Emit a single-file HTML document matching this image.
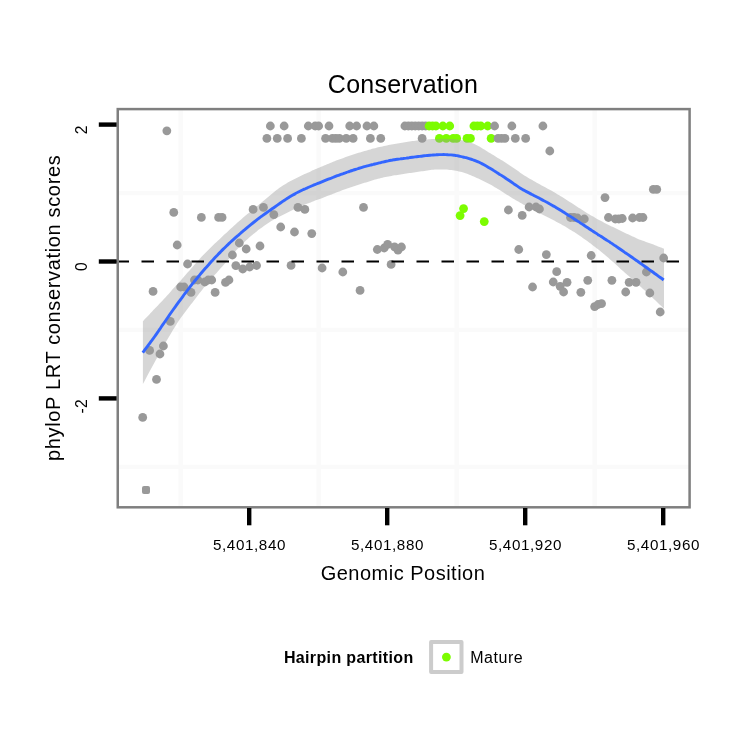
<!DOCTYPE html>
<html><head><meta charset="utf-8"><title>Conservation</title>
<style>
html,body{margin:0;padding:0;background:#fff;}
body{width:750px;height:750px;overflow:hidden;}
svg{display:block;}
text{font-family:"Liberation Sans",sans-serif;fill:#000;}
</style></head><body>
<svg width="750" height="750" viewBox="0 0 750 750">
<rect x="0" y="0" width="750" height="750" fill="#ffffff"/>
<!-- grid -->
<g stroke="#fafafa" stroke-width="4.4" fill="none">
<line x1="180.7" y1="109" x2="180.7" y2="507"/><line x1="318.7" y1="109" x2="318.7" y2="507"/>
<line x1="456.7" y1="109" x2="456.7" y2="507"/><line x1="594.7" y1="109" x2="594.7" y2="507"/>
<line x1="118" y1="193.1" x2="689.5" y2="193.1"/><line x1="118" y1="329.9" x2="689.5" y2="329.9"/>
<line x1="118" y1="466.9" x2="689.5" y2="466.9"/>
</g>
<!-- points -->
<g>
<circle cx="142.70" cy="417.4" r="4.40" fill="#999999"/>
<rect x="142" y="485.9" width="8" height="8" rx="2" ry="2" fill="#999999"/>
<circle cx="149.60" cy="350.4" r="4.40" fill="#999999"/>
<circle cx="153.05" cy="291.4" r="4.40" fill="#999999"/>
<circle cx="156.50" cy="379.4" r="4.40" fill="#999999"/>
<circle cx="159.95" cy="354.0" r="4.40" fill="#999999"/>
<circle cx="163.40" cy="346.0" r="4.40" fill="#999999"/>
<circle cx="166.85" cy="130.8" r="4.40" fill="#999999"/>
<circle cx="170.30" cy="321.4" r="4.40" fill="#999999"/>
<circle cx="173.75" cy="212.4" r="4.40" fill="#999999"/>
<circle cx="177.20" cy="245.0" r="4.40" fill="#999999"/>
<circle cx="180.65" cy="287.0" r="4.40" fill="#999999"/>
<circle cx="184.10" cy="287.0" r="4.40" fill="#999999"/>
<circle cx="187.55" cy="264.0" r="4.40" fill="#999999"/>
<circle cx="191.00" cy="292.4" r="4.40" fill="#999999"/>
<circle cx="194.45" cy="280.0" r="4.40" fill="#999999"/>
<circle cx="197.90" cy="280.0" r="4.40" fill="#999999"/>
<circle cx="201.35" cy="217.4" r="4.40" fill="#999999"/>
<circle cx="204.80" cy="282.0" r="4.40" fill="#999999"/>
<circle cx="208.25" cy="280.0" r="4.40" fill="#999999"/>
<circle cx="211.70" cy="280.0" r="4.40" fill="#999999"/>
<circle cx="215.15" cy="292.4" r="4.40" fill="#999999"/>
<circle cx="218.60" cy="217.4" r="4.40" fill="#999999"/>
<circle cx="222.05" cy="217.4" r="4.40" fill="#999999"/>
<circle cx="225.50" cy="282.4" r="4.40" fill="#999999"/>
<circle cx="228.95" cy="280.0" r="4.40" fill="#999999"/>
<circle cx="232.40" cy="255.0" r="4.40" fill="#999999"/>
<circle cx="235.85" cy="265.6" r="4.40" fill="#999999"/>
<circle cx="239.30" cy="243.0" r="4.40" fill="#999999"/>
<circle cx="242.75" cy="269.0" r="4.40" fill="#999999"/>
<circle cx="246.20" cy="249.0" r="4.40" fill="#999999"/>
<circle cx="249.65" cy="267.0" r="4.40" fill="#999999"/>
<circle cx="253.10" cy="209.4" r="4.40" fill="#999999"/>
<circle cx="256.55" cy="265.5" r="4.40" fill="#999999"/>
<circle cx="260.00" cy="246.0" r="4.40" fill="#999999"/>
<circle cx="263.45" cy="207.4" r="4.40" fill="#999999"/>
<circle cx="266.90" cy="138.4" r="4.40" fill="#999999"/>
<circle cx="270.35" cy="126.0" r="4.40" fill="#999999"/>
<circle cx="273.80" cy="214.6" r="4.40" fill="#999999"/>
<circle cx="277.25" cy="138.4" r="4.40" fill="#999999"/>
<circle cx="280.70" cy="227.0" r="4.40" fill="#999999"/>
<circle cx="284.15" cy="126.0" r="4.40" fill="#999999"/>
<circle cx="287.60" cy="138.4" r="4.40" fill="#999999"/>
<circle cx="291.05" cy="265.4" r="4.40" fill="#999999"/>
<circle cx="294.50" cy="232.0" r="4.40" fill="#999999"/>
<circle cx="297.95" cy="207.4" r="4.40" fill="#999999"/>
<circle cx="301.40" cy="138.4" r="4.40" fill="#999999"/>
<circle cx="304.85" cy="209.4" r="4.40" fill="#999999"/>
<circle cx="308.30" cy="126.0" r="4.40" fill="#999999"/>
<circle cx="311.75" cy="233.6" r="4.40" fill="#999999"/>
<circle cx="315.20" cy="126.0" r="4.40" fill="#999999"/>
<circle cx="318.65" cy="126.0" r="4.40" fill="#999999"/>
<circle cx="322.10" cy="268.0" r="4.40" fill="#999999"/>
<circle cx="325.55" cy="138.4" r="4.40" fill="#999999"/>
<circle cx="329.00" cy="126.0" r="4.40" fill="#999999"/>
<circle cx="332.45" cy="138.4" r="4.40" fill="#999999"/>
<circle cx="335.90" cy="138.4" r="4.40" fill="#999999"/>
<circle cx="339.35" cy="138.4" r="4.40" fill="#999999"/>
<circle cx="342.80" cy="272.0" r="4.40" fill="#999999"/>
<circle cx="346.25" cy="138.4" r="4.40" fill="#999999"/>
<circle cx="349.70" cy="126.0" r="4.40" fill="#999999"/>
<circle cx="353.15" cy="138.4" r="4.40" fill="#999999"/>
<circle cx="356.60" cy="126.0" r="4.40" fill="#999999"/>
<circle cx="360.05" cy="290.4" r="4.40" fill="#999999"/>
<circle cx="363.50" cy="207.4" r="4.40" fill="#999999"/>
<circle cx="366.95" cy="126.0" r="4.40" fill="#999999"/>
<circle cx="370.40" cy="138.4" r="4.40" fill="#999999"/>
<circle cx="373.85" cy="126.0" r="4.40" fill="#999999"/>
<circle cx="377.30" cy="249.5" r="4.40" fill="#999999"/>
<circle cx="380.75" cy="138.4" r="4.40" fill="#999999"/>
<circle cx="384.20" cy="248.0" r="4.40" fill="#999999"/>
<circle cx="387.65" cy="244.3" r="4.40" fill="#999999"/>
<circle cx="391.10" cy="264.4" r="4.40" fill="#999999"/>
<circle cx="394.55" cy="246.8" r="4.40" fill="#999999"/>
<circle cx="398.00" cy="250.2" r="4.40" fill="#999999"/>
<circle cx="401.45" cy="247.0" r="4.40" fill="#999999"/>
<circle cx="404.90" cy="126.0" r="4.40" fill="#999999"/>
<circle cx="408.35" cy="126.0" r="4.40" fill="#999999"/>
<circle cx="411.80" cy="126.0" r="4.40" fill="#999999"/>
<circle cx="415.25" cy="126.0" r="4.40" fill="#999999"/>
<circle cx="418.70" cy="126.0" r="4.40" fill="#999999"/>
<circle cx="422.15" cy="138.4" r="4.40" fill="#999999"/>
<circle cx="422.15" cy="126.0" r="4.40" fill="#999999"/>
<circle cx="425.60" cy="126.0" r="4.40" fill="#999999"/>
<circle cx="429.05" cy="126.0" r="4.40" fill="#7cfc00"/>
<circle cx="432.50" cy="126.0" r="4.40" fill="#7cfc00"/>
<circle cx="435.95" cy="126.0" r="4.40" fill="#7cfc00"/>
<circle cx="439.40" cy="138.4" r="4.40" fill="#7cfc00"/>
<circle cx="442.85" cy="126.0" r="4.40" fill="#7cfc00"/>
<circle cx="446.30" cy="138.4" r="4.40" fill="#7cfc00"/>
<circle cx="449.75" cy="126.0" r="4.40" fill="#7cfc00"/>
<circle cx="453.20" cy="138.4" r="4.40" fill="#7cfc00"/>
<circle cx="456.65" cy="138.4" r="4.40" fill="#7cfc00"/>
<circle cx="460.10" cy="215.6" r="4.40" fill="#7cfc00"/>
<circle cx="463.55" cy="208.6" r="4.40" fill="#7cfc00"/>
<circle cx="467.00" cy="138.4" r="4.40" fill="#7cfc00"/>
<circle cx="470.45" cy="138.4" r="4.40" fill="#7cfc00"/>
<circle cx="473.90" cy="126.0" r="4.40" fill="#7cfc00"/>
<circle cx="477.35" cy="126.0" r="4.40" fill="#7cfc00"/>
<circle cx="480.80" cy="126.0" r="4.40" fill="#7cfc00"/>
<circle cx="484.25" cy="221.6" r="4.40" fill="#7cfc00"/>
<circle cx="487.70" cy="126.0" r="4.40" fill="#7cfc00"/>
<circle cx="491.15" cy="138.4" r="4.40" fill="#7cfc00"/>
<circle cx="494.60" cy="126.0" r="4.40" fill="#999999"/>
<circle cx="498.05" cy="138.4" r="4.40" fill="#999999"/>
<circle cx="501.50" cy="138.4" r="4.40" fill="#999999"/>
<circle cx="504.95" cy="138.4" r="4.40" fill="#999999"/>
<circle cx="508.40" cy="210.0" r="4.40" fill="#999999"/>
<circle cx="511.85" cy="126.0" r="4.40" fill="#999999"/>
<circle cx="515.30" cy="138.4" r="4.40" fill="#999999"/>
<circle cx="518.75" cy="249.5" r="4.40" fill="#999999"/>
<circle cx="522.20" cy="215.4" r="4.40" fill="#999999"/>
<circle cx="525.65" cy="138.4" r="4.40" fill="#999999"/>
<circle cx="529.10" cy="207.0" r="4.40" fill="#999999"/>
<circle cx="532.55" cy="287.0" r="4.40" fill="#999999"/>
<circle cx="536.00" cy="207.0" r="4.40" fill="#999999"/>
<circle cx="539.45" cy="209.0" r="4.40" fill="#999999"/>
<circle cx="542.90" cy="126.0" r="4.40" fill="#999999"/>
<circle cx="546.35" cy="254.6" r="4.40" fill="#999999"/>
<circle cx="549.80" cy="151.0" r="4.40" fill="#999999"/>
<circle cx="553.25" cy="282.0" r="4.40" fill="#999999"/>
<circle cx="556.70" cy="271.7" r="4.40" fill="#999999"/>
<circle cx="560.15" cy="286.3" r="4.40" fill="#999999"/>
<circle cx="563.60" cy="292.0" r="4.40" fill="#999999"/>
<circle cx="567.05" cy="282.3" r="4.40" fill="#999999"/>
<circle cx="570.50" cy="217.5" r="4.40" fill="#999999"/>
<circle cx="573.95" cy="217.5" r="4.40" fill="#999999"/>
<circle cx="577.40" cy="218.0" r="4.40" fill="#999999"/>
<circle cx="580.85" cy="292.3" r="4.40" fill="#999999"/>
<circle cx="584.30" cy="219.0" r="4.40" fill="#999999"/>
<circle cx="587.75" cy="280.3" r="4.40" fill="#999999"/>
<circle cx="591.20" cy="255.5" r="4.40" fill="#999999"/>
<circle cx="594.65" cy="306.6" r="4.40" fill="#999999"/>
<circle cx="598.10" cy="304.5" r="4.40" fill="#999999"/>
<circle cx="601.55" cy="303.7" r="4.40" fill="#999999"/>
<circle cx="605.00" cy="197.6" r="4.40" fill="#999999"/>
<circle cx="608.45" cy="217.5" r="4.40" fill="#999999"/>
<circle cx="611.90" cy="280.3" r="4.40" fill="#999999"/>
<circle cx="615.35" cy="219.0" r="4.40" fill="#999999"/>
<circle cx="618.80" cy="219.0" r="4.40" fill="#999999"/>
<circle cx="622.25" cy="218.5" r="4.40" fill="#999999"/>
<circle cx="625.70" cy="292.0" r="4.40" fill="#999999"/>
<circle cx="629.15" cy="282.3" r="4.40" fill="#999999"/>
<circle cx="632.60" cy="218.0" r="4.40" fill="#999999"/>
<circle cx="636.05" cy="282.3" r="4.40" fill="#999999"/>
<circle cx="639.50" cy="217.5" r="4.40" fill="#999999"/>
<circle cx="642.95" cy="217.5" r="4.40" fill="#999999"/>
<circle cx="646.40" cy="272.0" r="4.40" fill="#999999"/>
<circle cx="649.85" cy="293.0" r="4.40" fill="#999999"/>
<circle cx="653.30" cy="189.4" r="4.40" fill="#999999"/>
<circle cx="656.75" cy="189.4" r="4.40" fill="#999999"/>
<circle cx="660.20" cy="312.0" r="4.40" fill="#999999"/>
<circle cx="663.65" cy="258.0" r="4.40" fill="#999999"/>
</g>
<!-- smooth -->
<path d="M142.9,321.3 C143.4,320.8 144.9,319.1 145.9,318.1 C146.9,317.0 147.9,315.9 148.9,314.9 C149.9,313.8 150.9,312.7 151.9,311.7 C152.9,310.6 153.9,309.6 154.9,308.5 C155.9,307.5 156.9,306.4 157.9,305.4 C158.9,304.3 159.9,303.3 160.9,302.2 C161.9,301.1 162.9,300.0 163.9,298.9 C164.9,297.9 165.9,296.8 166.9,295.7 C167.9,294.6 168.9,293.5 169.9,292.4 C170.9,291.3 171.9,290.2 172.8,289.1 C173.8,288.0 174.8,286.9 175.8,285.8 C176.8,284.7 177.8,283.6 178.8,282.5 C179.8,281.4 180.8,280.3 181.8,279.2 C182.8,278.1 183.8,276.9 184.8,275.8 C185.8,274.7 186.8,273.5 187.8,272.3 C188.8,271.2 189.8,270.0 190.8,268.9 C191.8,267.7 192.8,266.6 193.8,265.4 C194.8,264.3 195.8,263.2 196.8,262.0 C197.8,260.9 198.8,259.8 199.8,258.7 C200.8,257.6 201.8,256.5 202.8,255.5 C203.8,254.4 204.8,253.4 205.8,252.4 C206.8,251.4 207.8,250.4 208.8,249.4 C209.8,248.4 210.8,247.4 211.8,246.5 C212.8,245.5 213.8,244.5 214.8,243.6 C215.8,242.6 216.8,241.7 217.8,240.7 C218.8,239.8 219.8,238.8 220.8,237.9 C221.8,237.0 222.8,236.1 223.8,235.1 C224.8,234.2 225.8,233.3 226.8,232.4 C227.8,231.5 228.8,230.6 229.8,229.6 C230.7,228.7 231.7,227.8 232.7,226.9 C233.7,226.0 234.7,225.1 235.7,224.2 C236.7,223.3 237.7,222.4 238.7,221.5 C239.7,220.7 240.7,219.8 241.7,218.9 C242.7,218.0 243.7,217.1 244.7,216.3 C245.7,215.4 246.7,214.6 247.7,213.8 C248.7,213.0 249.7,212.2 250.7,211.4 C251.7,210.6 252.7,209.8 253.7,209.0 C254.7,208.2 255.7,207.4 256.7,206.6 C257.7,205.8 258.7,205.0 259.7,204.1 C260.7,203.3 261.7,202.5 262.7,201.6 C263.7,200.7 264.7,199.9 265.7,199.0 C266.7,198.2 267.7,197.3 268.7,196.4 C269.7,195.6 270.7,194.8 271.7,194.0 C272.7,193.1 273.7,192.3 274.7,191.6 C275.7,190.8 276.7,190.0 277.7,189.3 C278.7,188.5 279.7,187.8 280.7,187.1 C281.7,186.4 282.7,185.7 283.7,185.1 C284.7,184.4 285.7,183.8 286.7,183.2 C287.7,182.6 288.6,182.1 289.6,181.5 C290.6,181.0 291.6,180.5 292.6,180.0 C293.6,179.4 294.6,178.9 295.6,178.4 C296.6,177.9 297.6,177.4 298.6,176.9 C299.6,176.4 300.6,176.0 301.6,175.5 C302.6,175.0 303.6,174.5 304.6,174.1 C305.6,173.6 306.6,173.2 307.6,172.7 C308.6,172.3 309.6,171.8 310.6,171.4 C311.6,170.9 312.6,170.5 313.6,170.1 C314.6,169.6 315.6,169.2 316.6,168.8 C317.6,168.4 318.6,168.0 319.6,167.6 C320.6,167.1 321.6,166.7 322.6,166.3 C323.6,165.9 324.6,165.5 325.6,165.1 C326.6,164.6 327.6,164.2 328.6,163.8 C329.6,163.4 330.6,163.0 331.6,162.6 C332.6,162.1 333.6,161.7 334.6,161.3 C335.6,160.9 336.6,160.5 337.6,160.1 C338.6,159.8 339.6,159.4 340.6,159.0 C341.6,158.6 342.6,158.2 343.6,157.9 C344.6,157.5 345.6,157.1 346.5,156.8 C347.5,156.4 348.5,156.1 349.5,155.7 C350.5,155.4 351.5,155.1 352.5,154.7 C353.5,154.4 354.5,154.1 355.5,153.8 C356.5,153.4 357.5,153.1 358.5,152.8 C359.5,152.5 360.5,152.2 361.5,151.9 C362.5,151.6 363.5,151.3 364.5,151.0 C365.5,150.7 366.5,150.5 367.5,150.2 C368.5,149.9 369.5,149.6 370.5,149.4 C371.5,149.1 372.5,148.8 373.5,148.6 C374.5,148.3 375.5,148.1 376.5,147.8 C377.5,147.6 378.5,147.3 379.5,147.1 C380.5,146.8 381.5,146.6 382.5,146.4 C383.5,146.1 384.5,145.9 385.5,145.7 C386.5,145.5 387.5,145.3 388.5,145.0 C389.5,144.8 390.5,144.6 391.5,144.4 C392.5,144.2 393.5,144.1 394.5,143.9 C395.5,143.7 396.5,143.5 397.5,143.4 C398.5,143.2 399.5,143.0 400.5,142.9 C401.5,142.7 402.5,142.5 403.5,142.4 C404.4,142.2 405.4,142.1 406.4,141.9 C407.4,141.8 408.4,141.6 409.4,141.5 C410.4,141.4 411.4,141.2 412.4,141.1 C413.4,141.0 414.4,140.8 415.4,140.7 C416.4,140.6 417.4,140.5 418.4,140.3 C419.4,140.2 420.4,140.1 421.4,140.0 C422.4,139.9 423.4,139.8 424.4,139.8 C425.4,139.7 426.4,139.6 427.4,139.5 C428.4,139.4 429.4,139.4 430.4,139.3 C431.4,139.2 432.4,139.2 433.4,139.1 C434.4,139.1 435.4,139.0 436.4,139.0 C437.4,139.0 438.4,138.9 439.4,138.9 C440.4,138.9 441.4,138.8 442.4,138.8 C443.4,138.8 444.4,138.8 445.4,138.8 C446.4,138.8 447.4,138.8 448.4,138.9 C449.4,138.9 450.4,138.9 451.4,139.0 C452.4,139.0 453.4,139.1 454.4,139.2 C455.4,139.2 456.4,139.4 457.4,139.5 C458.4,139.6 459.4,139.8 460.4,139.9 C461.3,140.1 462.3,140.3 463.3,140.5 C464.3,140.7 465.3,141.0 466.3,141.2 C467.3,141.5 468.3,141.8 469.3,142.2 C470.3,142.5 471.3,142.9 472.3,143.3 C473.3,143.7 474.3,144.1 475.3,144.6 C476.3,145.1 477.3,145.6 478.3,146.1 C479.3,146.6 480.3,147.2 481.3,147.8 C482.3,148.4 483.3,149.0 484.3,149.6 C485.3,150.2 486.3,150.8 487.3,151.4 C488.3,152.0 489.3,152.6 490.3,153.3 C491.3,153.9 492.3,154.5 493.3,155.1 C494.3,155.7 495.3,156.3 496.3,157.0 C497.3,157.6 498.3,158.2 499.3,158.8 C500.3,159.4 501.3,160.0 502.3,160.6 C503.3,161.2 504.3,161.8 505.3,162.5 C506.3,163.1 507.3,163.8 508.3,164.4 C509.3,165.1 510.3,165.8 511.3,166.4 C512.3,167.1 513.3,167.8 514.3,168.5 C515.3,169.2 516.3,169.9 517.3,170.6 C518.3,171.3 519.2,172.0 520.2,172.7 C521.2,173.4 522.2,174.0 523.2,174.7 C524.2,175.3 525.2,175.9 526.2,176.5 C527.2,177.2 528.2,177.8 529.2,178.4 C530.2,179.0 531.2,179.5 532.2,180.1 C533.2,180.7 534.2,181.3 535.2,181.8 C536.2,182.4 537.2,183.0 538.2,183.5 C539.2,184.1 540.2,184.6 541.2,185.2 C542.2,185.7 543.2,186.2 544.2,186.8 C545.2,187.3 546.2,187.9 547.2,188.4 C548.2,188.9 549.2,189.5 550.2,190.0 C551.2,190.6 552.2,191.1 553.2,191.7 C554.2,192.3 555.2,192.8 556.2,193.4 C557.2,194.0 558.2,194.6 559.2,195.2 C560.2,195.8 561.2,196.4 562.2,197.1 C563.2,197.7 564.2,198.3 565.2,199.0 C566.2,199.6 567.2,200.3 568.2,200.9 C569.2,201.6 570.2,202.2 571.2,202.8 C572.2,203.5 573.2,204.1 574.2,204.8 C575.2,205.4 576.2,206.1 577.1,206.7 C578.1,207.4 579.1,208.0 580.1,208.6 C581.1,209.3 582.1,209.9 583.1,210.5 C584.1,211.2 585.1,211.8 586.1,212.4 C587.1,213.0 588.1,213.7 589.1,214.3 C590.1,214.9 591.1,215.5 592.1,216.1 C593.1,216.7 594.1,217.2 595.1,217.8 C596.1,218.4 597.1,219.0 598.1,219.5 C599.1,220.1 600.1,220.6 601.1,221.1 C602.1,221.7 603.1,222.2 604.1,222.7 C605.1,223.2 606.1,223.7 607.1,224.2 C608.1,224.7 609.1,225.2 610.1,225.7 C611.1,226.2 612.1,226.7 613.1,227.1 C614.1,227.6 615.1,228.1 616.1,228.6 C617.1,229.1 618.1,229.6 619.1,230.0 C620.1,230.5 621.1,231.0 622.1,231.5 C623.1,231.9 624.1,232.4 625.1,232.9 C626.1,233.4 627.1,233.8 628.1,234.3 C629.1,234.8 630.1,235.3 631.1,235.7 C632.1,236.2 633.1,236.7 634.1,237.1 C635.0,237.6 636.0,238.0 637.0,238.4 C638.0,238.9 639.0,239.3 640.0,239.7 C641.0,240.1 642.0,240.4 643.0,240.8 C644.0,241.2 645.0,241.5 646.0,241.9 C647.0,242.3 648.0,242.6 649.0,243.0 C650.0,243.4 651.0,243.7 652.0,244.1 C653.0,244.5 654.0,244.9 655.0,245.2 C656.0,245.6 657.0,246.0 658.0,246.4 C659.0,246.8 660.0,247.2 661.0,247.5 C662.0,247.9 663.5,248.5 664.0,248.7 L664.0,308.7 C663.5,308.2 662.0,306.8 661.0,305.8 C660.0,304.9 659.0,303.9 658.0,303.0 C657.0,302.0 656.0,301.1 655.0,300.1 C654.0,299.2 653.0,298.2 652.0,297.3 C651.0,296.4 650.0,295.4 649.0,294.5 C648.0,293.6 647.0,292.7 646.0,291.7 C645.0,290.8 644.0,289.9 643.0,289.0 C642.0,288.1 641.0,287.2 640.0,286.3 C639.0,285.4 638.0,284.5 637.0,283.6 C636.0,282.7 635.0,281.8 634.1,280.9 C633.1,280.0 632.1,279.1 631.1,278.2 C630.1,277.4 629.1,276.5 628.1,275.6 C627.1,274.7 626.1,273.8 625.1,272.9 C624.1,272.0 623.1,271.1 622.1,270.2 C621.1,269.3 620.1,268.3 619.1,267.4 C618.1,266.5 617.1,265.6 616.1,264.7 C615.1,263.8 614.1,262.9 613.1,262.0 C612.1,261.2 611.1,260.3 610.1,259.4 C609.1,258.5 608.1,257.7 607.1,256.8 C606.1,256.0 605.1,255.1 604.1,254.3 C603.1,253.4 602.1,252.6 601.1,251.8 C600.1,250.9 599.1,250.1 598.1,249.3 C597.1,248.5 596.1,247.8 595.1,247.0 C594.1,246.2 593.1,245.5 592.1,244.7 C591.1,244.0 590.1,243.2 589.1,242.5 C588.1,241.7 587.1,241.0 586.1,240.3 C585.1,239.6 584.1,238.9 583.1,238.2 C582.1,237.5 581.1,236.8 580.1,236.1 C579.1,235.4 578.1,234.7 577.1,234.1 C576.2,233.4 575.2,232.7 574.2,232.1 C573.2,231.4 572.2,230.8 571.2,230.2 C570.2,229.6 569.2,229.0 568.2,228.4 C567.2,227.8 566.2,227.2 565.2,226.6 C564.2,226.1 563.2,225.5 562.2,225.0 C561.2,224.4 560.2,223.8 559.2,223.3 C558.2,222.7 557.2,222.2 556.2,221.7 C555.2,221.1 554.2,220.6 553.2,220.1 C552.2,219.5 551.2,219.0 550.2,218.5 C549.2,218.0 548.2,217.5 547.2,217.0 C546.2,216.5 545.2,216.0 544.2,215.5 C543.2,214.9 542.2,214.4 541.2,213.9 C540.2,213.4 539.2,212.9 538.2,212.4 C537.2,211.9 536.2,211.4 535.2,210.9 C534.2,210.4 533.2,209.8 532.2,209.3 C531.2,208.8 530.2,208.2 529.2,207.7 C528.2,207.2 527.2,206.6 526.2,206.1 C525.2,205.5 524.2,205.0 523.2,204.4 C522.2,203.8 521.2,203.3 520.2,202.7 C519.2,202.1 518.3,201.5 517.3,201.0 C516.3,200.4 515.3,199.8 514.3,199.2 C513.3,198.6 512.3,198.0 511.3,197.4 C510.3,196.8 509.3,196.2 508.3,195.6 C507.3,194.9 506.3,194.3 505.3,193.7 C504.3,193.0 503.3,192.4 502.3,191.7 C501.3,191.1 500.3,190.5 499.3,189.8 C498.3,189.2 497.3,188.6 496.3,188.0 C495.3,187.4 494.3,186.8 493.3,186.2 C492.3,185.6 491.3,185.1 490.3,184.6 C489.3,184.0 488.3,183.5 487.3,183.0 C486.3,182.4 485.3,181.9 484.3,181.4 C483.3,180.9 482.3,180.4 481.3,179.9 C480.3,179.5 479.3,179.0 478.3,178.5 C477.3,178.1 476.3,177.6 475.3,177.2 C474.3,176.7 473.3,176.3 472.3,175.9 C471.3,175.5 470.3,175.0 469.3,174.7 C468.3,174.3 467.3,173.9 466.3,173.6 C465.3,173.2 464.3,172.9 463.3,172.6 C462.3,172.3 461.3,172.0 460.4,171.8 C459.4,171.5 458.4,171.3 457.4,171.0 C456.4,170.8 455.4,170.6 454.4,170.5 C453.4,170.3 452.4,170.1 451.4,170.0 C450.4,169.9 449.4,169.8 448.4,169.7 C447.4,169.6 446.4,169.6 445.4,169.5 C444.4,169.5 443.4,169.4 442.4,169.4 C441.4,169.4 440.4,169.4 439.4,169.4 C438.4,169.5 437.4,169.5 436.4,169.6 C435.4,169.6 434.4,169.7 433.4,169.8 C432.4,169.8 431.4,169.9 430.4,170.1 C429.4,170.2 428.4,170.3 427.4,170.4 C426.4,170.6 425.4,170.7 424.4,170.9 C423.4,171.0 422.4,171.2 421.4,171.3 C420.4,171.5 419.4,171.6 418.4,171.8 C417.4,171.9 416.4,172.1 415.4,172.2 C414.4,172.4 413.4,172.5 412.4,172.7 C411.4,172.8 410.4,172.9 409.4,173.1 C408.4,173.2 407.4,173.4 406.4,173.5 C405.4,173.7 404.4,173.8 403.5,174.0 C402.5,174.1 401.5,174.3 400.5,174.4 C399.5,174.5 398.5,174.7 397.5,174.9 C396.5,175.0 395.5,175.2 394.5,175.3 C393.5,175.5 392.5,175.7 391.5,175.9 C390.5,176.0 389.5,176.2 388.5,176.4 C387.5,176.6 386.5,176.9 385.5,177.1 C384.5,177.3 383.5,177.5 382.5,177.8 C381.5,178.0 380.5,178.2 379.5,178.5 C378.5,178.7 377.5,179.0 376.5,179.3 C375.5,179.5 374.5,179.8 373.5,180.1 C372.5,180.4 371.5,180.7 370.5,181.0 C369.5,181.3 368.5,181.6 367.5,181.9 C366.5,182.2 365.5,182.5 364.5,182.8 C363.5,183.2 362.5,183.5 361.5,183.8 C360.5,184.1 359.5,184.4 358.5,184.8 C357.5,185.1 356.5,185.4 355.5,185.7 C354.5,186.1 353.5,186.4 352.5,186.7 C351.5,187.1 350.5,187.4 349.5,187.7 C348.5,188.1 347.5,188.4 346.5,188.8 C345.6,189.1 344.6,189.5 343.6,189.8 C342.6,190.2 341.6,190.5 340.6,190.9 C339.6,191.3 338.6,191.6 337.6,192.0 C336.6,192.4 335.6,192.8 334.6,193.2 C333.6,193.6 332.6,194.0 331.6,194.4 C330.6,194.7 329.6,195.1 328.6,195.5 C327.6,195.9 326.6,196.3 325.6,196.7 C324.6,197.1 323.6,197.5 322.6,197.9 C321.6,198.3 320.6,198.7 319.6,199.0 C318.6,199.4 317.6,199.8 316.6,200.1 C315.6,200.5 314.6,200.9 313.6,201.3 C312.6,201.6 311.6,202.0 310.6,202.4 C309.6,202.8 308.6,203.2 307.6,203.6 C306.6,204.0 305.6,204.4 304.6,204.8 C303.6,205.2 302.6,205.6 301.6,206.0 C300.6,206.4 299.6,206.8 298.6,207.3 C297.6,207.7 296.6,208.2 295.6,208.6 C294.6,209.1 293.6,209.5 292.6,210.0 C291.6,210.5 290.6,211.0 289.6,211.5 C288.6,211.9 287.7,212.4 286.7,212.9 C285.7,213.4 284.7,213.9 283.7,214.4 C282.7,214.9 281.7,215.4 280.7,215.9 C279.7,216.4 278.7,216.9 277.7,217.4 C276.7,217.9 275.7,218.5 274.7,219.0 C273.7,219.6 272.7,220.2 271.7,220.8 C270.7,221.4 269.7,222.1 268.7,222.7 C267.7,223.4 266.7,224.1 265.7,224.7 C264.7,225.4 263.7,226.1 262.7,226.9 C261.7,227.6 260.7,228.3 259.7,229.1 C258.7,229.8 257.7,230.6 256.7,231.4 C255.7,232.2 254.7,233.0 253.7,233.8 C252.7,234.6 251.7,235.4 250.7,236.3 C249.7,237.1 248.7,238.0 247.7,238.9 C246.7,239.8 245.7,240.7 244.7,241.7 C243.7,242.7 242.7,243.6 241.7,244.6 C240.7,245.6 239.7,246.7 238.7,247.7 C237.7,248.8 236.7,249.8 235.7,250.9 C234.7,252.0 233.7,253.1 232.7,254.2 C231.7,255.4 230.7,256.5 229.8,257.7 C228.8,258.9 227.8,260.1 226.8,261.2 C225.8,262.4 224.8,263.6 223.8,264.7 C222.8,265.9 221.8,267.0 220.8,268.1 C219.8,269.2 218.8,270.3 217.8,271.4 C216.8,272.6 215.8,273.7 214.8,274.8 C213.8,275.9 212.8,277.0 211.8,278.2 C210.8,279.3 209.8,280.5 208.8,281.6 C207.8,282.8 206.8,284.0 205.8,285.2 C204.8,286.4 203.8,287.6 202.8,288.9 C201.8,290.2 200.8,291.5 199.8,292.8 C198.8,294.1 197.8,295.4 196.8,296.7 C195.8,298.0 194.8,299.3 193.8,300.7 C192.8,302.0 191.8,303.3 190.8,304.6 C189.8,305.9 188.8,307.1 187.8,308.4 C186.8,309.7 185.8,311.0 184.8,312.4 C183.8,313.7 182.8,315.0 181.8,316.5 C180.8,317.9 179.8,319.3 178.8,320.8 C177.8,322.3 176.8,323.9 175.8,325.4 C174.8,327.0 173.8,328.6 172.8,330.3 C171.9,331.9 170.9,333.5 169.9,335.2 C168.9,336.9 167.9,338.6 166.9,340.3 C165.9,342.0 164.9,343.8 163.9,345.5 C162.9,347.3 161.9,349.1 160.9,350.8 C159.9,352.6 158.9,354.4 157.9,356.2 C156.9,358.0 155.9,359.9 154.9,361.7 C153.9,363.5 152.9,365.4 151.9,367.2 C150.9,369.1 149.9,370.9 148.9,372.8 C147.9,374.7 146.9,376.5 145.9,378.4 C144.9,380.3 143.4,383.1 142.9,384.0 Z" fill="#999999" fill-opacity="0.4"/>
<path d="M142.7,352.7 C143.2,352.0 144.7,350.1 145.7,348.7 C146.7,347.4 147.7,346.1 148.7,344.7 C149.7,343.4 150.7,342.0 151.7,340.7 C152.7,339.3 153.7,337.9 154.7,336.5 C155.7,335.1 156.7,333.6 157.7,332.2 C158.7,330.7 159.7,329.2 160.7,327.8 C161.7,326.3 162.7,324.8 163.7,323.4 C164.7,321.9 165.7,320.5 166.7,319.0 C167.7,317.6 168.7,316.2 169.6,314.8 C170.6,313.3 171.6,311.9 172.6,310.5 C173.6,309.1 174.6,307.7 175.6,306.3 C176.6,305.0 177.6,303.6 178.6,302.2 C179.6,300.8 180.6,299.4 181.6,298.1 C182.6,296.7 183.6,295.4 184.6,294.0 C185.6,292.7 186.6,291.4 187.6,290.1 C188.6,288.8 189.6,287.5 190.6,286.2 C191.6,284.9 192.6,283.6 193.6,282.4 C194.6,281.1 195.6,279.9 196.6,278.7 C197.6,277.5 198.6,276.3 199.6,275.1 C200.6,273.9 201.6,272.7 202.6,271.5 C203.6,270.4 204.6,269.2 205.6,268.1 C206.6,266.9 207.6,265.8 208.6,264.7 C209.6,263.5 210.6,262.4 211.6,261.3 C212.6,260.2 213.6,259.2 214.6,258.1 C215.6,257.0 216.6,256.0 217.6,255.0 C218.6,253.9 219.6,252.9 220.6,251.9 C221.5,250.9 222.5,249.9 223.5,248.9 C224.5,248.0 225.5,247.0 226.5,246.0 C227.5,245.1 228.5,244.1 229.5,243.2 C230.5,242.3 231.5,241.3 232.5,240.4 C233.5,239.5 234.5,238.6 235.5,237.7 C236.5,236.8 237.5,235.9 238.5,235.1 C239.5,234.2 240.5,233.3 241.5,232.4 C242.5,231.6 243.5,230.7 244.5,229.9 C245.5,229.0 246.5,228.2 247.5,227.3 C248.5,226.5 249.5,225.7 250.5,224.9 C251.5,224.1 252.5,223.3 253.5,222.5 C254.5,221.7 255.5,220.9 256.5,220.1 C257.5,219.3 258.5,218.6 259.5,217.8 C260.5,217.1 261.5,216.3 262.5,215.6 C263.5,214.9 264.5,214.2 265.5,213.5 C266.5,212.8 267.5,212.1 268.5,211.4 C269.5,210.7 270.5,210.0 271.5,209.3 C272.5,208.6 273.4,207.9 274.4,207.2 C275.4,206.5 276.4,205.8 277.4,205.1 C278.4,204.4 279.4,203.7 280.4,203.0 C281.4,202.3 282.4,201.6 283.4,200.9 C284.4,200.3 285.4,199.6 286.4,199.0 C287.4,198.4 288.4,197.7 289.4,197.1 C290.4,196.5 291.4,195.9 292.4,195.3 C293.4,194.7 294.4,194.1 295.4,193.6 C296.4,193.0 297.4,192.5 298.4,192.0 C299.4,191.5 300.4,191.0 301.4,190.5 C302.4,190.0 303.4,189.6 304.4,189.1 C305.4,188.7 306.4,188.2 307.4,187.8 C308.4,187.3 309.4,186.9 310.4,186.5 C311.4,186.1 312.4,185.7 313.4,185.2 C314.4,184.8 315.4,184.4 316.4,184.0 C317.4,183.6 318.4,183.2 319.4,182.8 C320.4,182.4 321.4,182.0 322.4,181.6 C323.4,181.2 324.4,180.8 325.3,180.4 C326.3,180.0 327.3,179.6 328.3,179.2 C329.3,178.8 330.3,178.4 331.3,178.1 C332.3,177.7 333.3,177.3 334.3,176.9 C335.3,176.5 336.3,176.1 337.3,175.7 C338.3,175.4 339.3,175.0 340.3,174.6 C341.3,174.3 342.3,173.9 343.3,173.6 C344.3,173.2 345.3,172.9 346.3,172.5 C347.3,172.2 348.3,171.8 349.3,171.5 C350.3,171.1 351.3,170.8 352.3,170.5 C353.3,170.1 354.3,169.8 355.3,169.5 C356.3,169.2 357.3,168.9 358.3,168.5 C359.3,168.2 360.3,167.9 361.3,167.6 C362.3,167.3 363.3,167.0 364.3,166.7 C365.3,166.5 366.3,166.2 367.3,165.9 C368.3,165.7 369.3,165.4 370.3,165.1 C371.3,164.9 372.3,164.6 373.3,164.4 C374.3,164.1 375.3,163.9 376.3,163.6 C377.2,163.4 378.2,163.1 379.2,162.9 C380.2,162.7 381.2,162.4 382.2,162.2 C383.2,162.0 384.2,161.7 385.2,161.5 C386.2,161.3 387.2,161.1 388.2,160.9 C389.2,160.6 390.2,160.4 391.2,160.3 C392.2,160.1 393.2,159.9 394.2,159.7 C395.2,159.6 396.2,159.4 397.2,159.3 C398.2,159.2 399.2,159.0 400.2,158.9 C401.2,158.7 402.2,158.6 403.2,158.5 C404.2,158.3 405.2,158.2 406.2,158.1 C407.2,157.9 408.2,157.8 409.2,157.7 C410.2,157.5 411.2,157.4 412.2,157.3 C413.2,157.2 414.2,157.0 415.2,156.9 C416.2,156.8 417.2,156.6 418.2,156.5 C419.2,156.4 420.2,156.3 421.2,156.2 C422.2,156.1 423.2,155.9 424.2,155.8 C425.2,155.7 426.2,155.6 427.2,155.5 C428.2,155.4 429.2,155.3 430.1,155.2 C431.1,155.1 432.1,155.1 433.1,155.0 C434.1,154.9 435.1,154.8 436.1,154.8 C437.1,154.7 438.1,154.7 439.1,154.6 C440.1,154.6 441.1,154.6 442.1,154.6 C443.1,154.5 444.1,154.5 445.1,154.6 C446.1,154.6 447.1,154.6 448.1,154.7 C449.1,154.7 450.1,154.8 451.1,154.9 C452.1,155.0 453.1,155.1 454.1,155.2 C455.1,155.4 456.1,155.5 457.1,155.7 C458.1,155.9 459.1,156.1 460.1,156.3 C461.1,156.5 462.1,156.7 463.1,157.0 C464.1,157.2 465.1,157.5 466.1,157.7 C467.1,158.0 468.1,158.3 469.1,158.6 C470.1,158.9 471.1,159.2 472.1,159.5 C473.1,159.9 474.1,160.2 475.1,160.6 C476.1,161.0 477.1,161.4 478.1,161.8 C479.1,162.3 480.1,162.8 481.1,163.3 C482.0,163.8 483.0,164.3 484.0,164.8 C485.0,165.4 486.0,166.0 487.0,166.5 C488.0,167.1 489.0,167.7 490.0,168.3 C491.0,168.9 492.0,169.5 493.0,170.1 C494.0,170.8 495.0,171.4 496.0,172.0 C497.0,172.6 498.0,173.3 499.0,173.9 C500.0,174.5 501.0,175.2 502.0,175.8 C503.0,176.4 504.0,177.1 505.0,177.7 C506.0,178.4 507.0,179.1 508.0,179.7 C509.0,180.4 510.0,181.1 511.0,181.8 C512.0,182.5 513.0,183.2 514.0,183.9 C515.0,184.5 516.0,185.2 517.0,185.9 C518.0,186.6 519.0,187.3 520.0,187.9 C521.0,188.5 522.0,189.1 523.0,189.7 C524.0,190.3 525.0,190.8 526.0,191.4 C527.0,191.9 528.0,192.4 529.0,192.9 C530.0,193.4 531.0,193.9 532.0,194.5 C533.0,195.0 533.9,195.5 534.9,196.0 C535.9,196.5 536.9,197.0 537.9,197.5 C538.9,198.0 539.9,198.6 540.9,199.1 C541.9,199.6 542.9,200.1 543.9,200.7 C544.9,201.2 545.9,201.7 546.9,202.3 C547.9,202.8 548.9,203.4 549.9,204.0 C550.9,204.5 551.9,205.1 552.9,205.7 C553.9,206.3 554.9,206.8 555.9,207.4 C556.9,208.0 557.9,208.6 558.9,209.2 C559.9,209.9 560.9,210.5 561.9,211.1 C562.9,211.7 563.9,212.4 564.9,213.0 C565.9,213.6 566.9,214.3 567.9,214.9 C568.9,215.5 569.9,216.2 570.9,216.8 C571.9,217.4 572.9,218.1 573.9,218.7 C574.9,219.4 575.9,220.0 576.9,220.7 C577.9,221.3 578.9,222.0 579.9,222.6 C580.9,223.3 581.9,223.9 582.9,224.6 C583.9,225.2 584.9,225.9 585.8,226.6 C586.8,227.2 587.8,227.9 588.8,228.5 C589.8,229.2 590.8,229.8 591.8,230.5 C592.8,231.1 593.8,231.8 594.8,232.4 C595.8,233.1 596.8,233.7 597.8,234.4 C598.8,235.0 599.8,235.7 600.8,236.3 C601.8,237.0 602.8,237.6 603.8,238.2 C604.8,238.9 605.8,239.5 606.8,240.2 C607.8,240.8 608.8,241.5 609.8,242.1 C610.8,242.8 611.8,243.4 612.8,244.1 C613.8,244.8 614.8,245.5 615.8,246.1 C616.8,246.8 617.8,247.5 618.8,248.2 C619.8,248.9 620.8,249.6 621.8,250.3 C622.8,251.0 623.8,251.7 624.8,252.4 C625.8,253.0 626.8,253.7 627.8,254.4 C628.8,255.1 629.8,255.8 630.8,256.5 C631.8,257.2 632.8,257.9 633.8,258.6 C634.8,259.3 635.8,260.0 636.8,260.7 C637.7,261.4 638.7,262.1 639.7,262.8 C640.7,263.5 641.7,264.2 642.7,264.9 C643.7,265.6 644.7,266.3 645.7,267.0 C646.7,267.7 647.7,268.4 648.7,269.1 C649.7,269.9 650.7,270.6 651.7,271.3 C652.7,272.0 653.7,272.7 654.7,273.5 C655.7,274.2 656.7,274.9 657.7,275.6 C658.7,276.4 659.7,277.1 660.7,277.8 C661.7,278.5 663.2,279.6 663.7,280.0" fill="none" stroke="#3366ff" stroke-width="2.9" stroke-linejoin="round"/>
<!-- zero line -->
<line x1="116.5" y1="261.5" x2="679" y2="261.5" stroke="#000" stroke-width="2.2" stroke-dasharray="12.5 12.5"/>
<!-- panel border -->
<rect x="117.75" y="109.1" width="571.85" height="398.2" fill="none" stroke="#7f7f7f" stroke-width="2.5"/>
<!-- ticks -->
<g stroke="#000" stroke-width="4.4">
<line x1="249.2" y1="508" x2="249.2" y2="525.3"/><line x1="387.2" y1="508" x2="387.2" y2="525.3"/>
<line x1="525.2" y1="508" x2="525.2" y2="525.3"/><line x1="663.2" y1="508" x2="663.2" y2="525.3"/>
<line x1="98.8" y1="124.6" x2="116.6" y2="124.6"/><line x1="98.8" y1="261.5" x2="116.6" y2="261.5"/>
<line x1="98.8" y1="398.4" x2="116.6" y2="398.4"/>
</g>
<!-- tick labels -->
<g font-size="15.2" text-anchor="middle" letter-spacing="0.62">
<text x="249.5" y="549.9">5,401,840</text><text x="387.5" y="549.9">5,401,880</text>
<text x="525.5" y="549.9">5,401,920</text><text x="663.5" y="549.9">5,401,960</text>
</g>
<g font-size="15.6" text-anchor="end" letter-spacing="0.4">
<text transform="translate(87.4,125.1) rotate(-90)">2</text>
<text transform="translate(87.4,261.9) rotate(-90)">0</text>
<text transform="translate(87.4,398.8) rotate(-90)">-2</text>
</g>
<!-- titles -->
<text x="403" y="93" font-size="25" text-anchor="middle" letter-spacing="0.25">Conservation</text>
<text x="403" y="579.8" font-size="20" text-anchor="middle" letter-spacing="0.5">Genomic Position</text>
<text transform="translate(60,307.8) rotate(-90)" font-size="20" text-anchor="middle" letter-spacing="0.65">phyloP LRT conservation scores</text>
<!-- legend -->
<text x="283.9" y="662.6" font-size="16" font-weight="bold" letter-spacing="0.36">Hairpin partition</text>
<rect x="431.1" y="642" width="30.4" height="30" fill="#ffffff" stroke="#cccccc" stroke-width="4" stroke-linejoin="round"/>
<circle cx="446.4" cy="657.1" r="4.4" fill="#7cfc00"/>
<text x="470.2" y="662.6" font-size="16" letter-spacing="0.55">Mature</text>
</svg>
</body></html>
